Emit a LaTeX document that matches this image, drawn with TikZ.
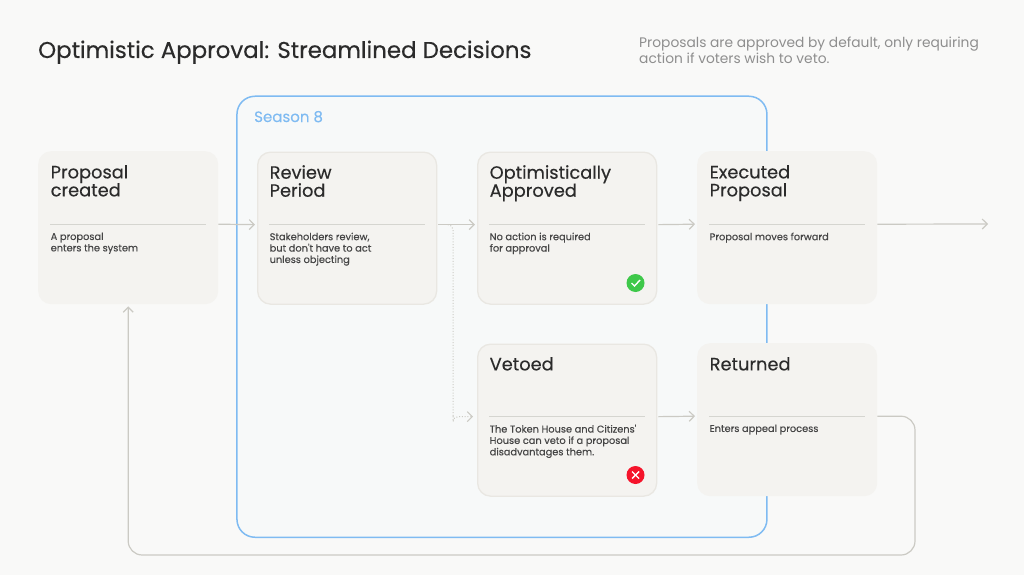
\documentclass[tikz,border=0pt]{standalone}
\usepackage{fontspec}
\setmainfont{Poppins}
\newfontfamily\mediumfont[FakeBold=0.25]{Poppins}
\newfontfamily\bodyfont[FakeBold=0.4]{Poppins}
\usetikzlibrary{arrows.meta}
\definecolor{paper}{HTML}{F9F9F8}
\definecolor{seasonfill}{HTML}{F7F9F9}
\definecolor{seasonblue}{HTML}{7FBBF2}
\definecolor{cardfill}{HTML}{F4F3F0}
\definecolor{cardline}{HTML}{E9E7E2}
\definecolor{linkgray}{HTML}{CBCAC4}
\definecolor{inkdark}{HTML}{2B2B2B}
\definecolor{inkbody}{HTML}{464646}
\definecolor{inkgray}{HTML}{8E8E8E}
\definecolor{okgreen}{HTML}{3EC84A}
\definecolor{nored}{HTML}{F5142B}
\tikzset{
  card/.style={fill=cardfill, rounded corners=13pt, minimum width=180pt, minimum height=153pt, inner sep=0pt},
  framed/.style={card, draw=cardline, line width=1.3pt, minimum width=179pt, minimum height=152pt},
  cardtitle/.style={anchor=north west, inner sep=0pt, inkdark, align=left, font=\mediumfont\fontsize{17.8}{18}\selectfont},
  cardbody/.style={anchor=north west, inner sep=0pt, inkbody, align=left, font=\bodyfont\fontsize{9.8}{11.4}\selectfont},
  divider/.style={draw=linkgray!80, line width=1pt},
  link/.style={draw=linkgray, line width=1.2pt, -{Straight Barb[length=5pt,width=10pt]}},
}
\begin{document}
\begin{tikzpicture}[x=1pt, y=-1pt]
  \useasboundingbox[fill=paper] (0,0) rectangle (1024,575);

  \node[anchor=base west, inner sep=0pt, inkdark, font=\mediumfont\fontsize{22.9}{26}\selectfont] (headline) at (38,58) {Optimistic Approval: Streamlined Decisions};
  \node[anchor=north west, inner sep=0pt, inkgray, align=left, font=\fontsize{13.8}{16}\selectfont] (summary) at (639,37) {Proposals are approved by default, only requiring\\action if voters wish to veto.};

  % season frame
  \node[anchor=north west, draw=seasonblue, fill=seasonfill, line width=1.5pt, rounded corners=18pt, minimum width=530pt, minimum height=441pt, inner sep=0pt] (season) at (236.2,95.5) {};
  \node[anchor=base west, inner sep=0pt, seasonblue, font=\mediumfont\fontsize{15}{16}\selectfont] (seasonlabel) at (254,122) {Season 8};

  % cards
  \node[card, anchor=north west] (proposal) at (38,151) {};
  \node[framed, anchor=north west] (review) at (257,151.5) {};
  \node[framed, anchor=north west] (approved) at (477,151.5) {};
  \node[card, anchor=north west] (executed) at (697,151) {};
  \node[framed, anchor=north west] (vetoed) at (477,343.5) {};
  \node[card, anchor=north west] (returned) at (697,343) {};

  \node[cardtitle] (proposaltitle) at (50.5,165) {Proposal\\created};
  \node[cardtitle] (reviewtitle) at (269.5,165) {Review\\Period};
  \node[cardtitle] (approvedtitle) at (489.5,165) {Optimistically\\Approved};
  \node[cardtitle] (executedtitle) at (709.5,165) {Executed\\Proposal};
  \node[cardtitle] (vetoedtitle) at (489.5,357) {Vetoed};
  \node[cardtitle] (returnedtitle) at (709.5,357) {Returned};

  \foreach \c in {proposal, review, approved, executed, vetoed, returned}
    \draw[divider] ([xshift=12pt,yshift=3.5pt]\c.west) -- ([xshift=-12pt,yshift=3.5pt]\c.east);

  \node[cardbody] (proposalbody) at (50.5,232.5) {A proposal\\enters the system};
  \node[cardbody] (reviewbody) at (269.5,232.5) {Stakeholders review,\\but don't have to act\\unless objecting};
  \node[cardbody] (approvedbody) at (489.5,232.5) {No action is required\\for approval};
  \node[cardbody] (executedbody) at (709.5,232.5) {Proposal moves forward};
  \node[cardbody] (vetoedbody) at (489.5,424.5) {The Token House and Citizens'\\House can veto if a proposal\\disadvantages them.};
  \node[cardbody] (returnedbody) at (709.5,424.5) {Enters appeal process};

  % status marks
  \node[circle, fill=okgreen, minimum size=18pt, inner sep=0pt] (okmark) at (635.5,283) {};
  \draw[white, line width=1.4pt] ([shift={(-4pt,0pt)}]okmark.center) -- ([shift={(-1pt,-3pt)}]okmark.center) -- ([shift={(4.5pt,3pt)}]okmark.center);
  \node[circle, fill=nored, minimum size=18pt, inner sep=0pt] (nomark) at (635.5,475) {};
  \draw[white, line width=1.4pt] ([shift={(-3.5pt,-3.5pt)}]nomark.center) -- ([shift={(3.5pt,3.5pt)}]nomark.center);
  \draw[white, line width=1.4pt] ([shift={(-3.5pt,3.5pt)}]nomark.center) -- ([shift={(3.5pt,-3.5pt)}]nomark.center);

  % connectors
  \coordinate (exitend) at (988,224);
  \coordinate (loopcorner) at (915,555);
  \draw[link] ([yshift=3.5pt]proposal.east) -- ([xshift=-2pt,yshift=3.5pt]review.west);
  \draw[link] ([yshift=3.5pt,xshift=1pt]review.east) -- ([xshift=-2pt,yshift=3.5pt]approved.west);
  \draw[link] ([yshift=3.5pt,xshift=1pt]approved.east) -- ([xshift=-2pt,yshift=3.5pt]executed.west);
  \draw[link] ([yshift=3.5pt]executed.east) -- (exitend);
  \draw[link] ([yshift=3.5pt,xshift=1pt]vetoed.east) -- ([xshift=-2pt,yshift=3.5pt]returned.west);
  \draw[link, dash pattern=on 1pt off 1.8pt, line width=1pt, rounded corners=5pt] ([yshift=3.5pt,xshift=11pt]review.east) -| ([xshift=-24pt]vetoed.west) |- ([yshift=3.5pt,xshift=-4pt]vetoed.west);
  \draw[link, rounded corners=14pt] ([yshift=3.5pt]returned.east) -| (loopcorner) -| ([yshift=-2pt]proposal.south);
\end{tikzpicture}
\end{document}
